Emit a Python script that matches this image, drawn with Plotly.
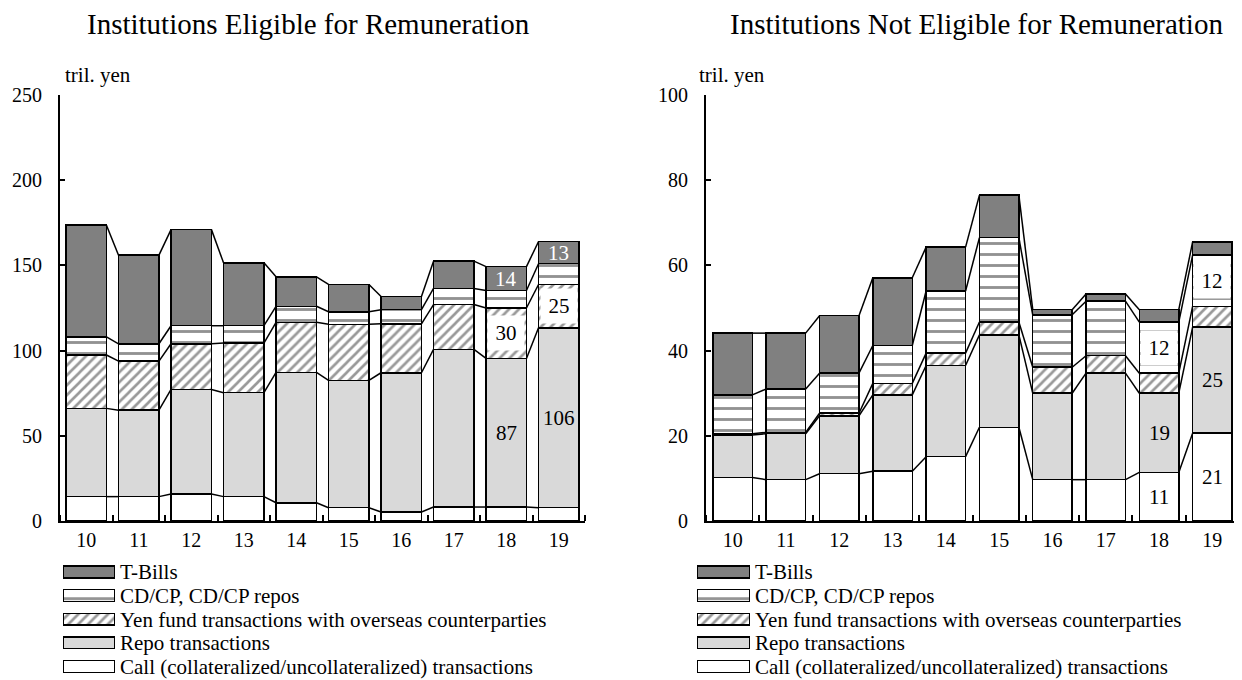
import numpy as np
import plotly.graph_objects as go

# fiscal years (tick labels)
years = ["10", "11", "12", "13", "14", "15", "16", "17", "18", "19"]

series_names = [
    "Call (collateralized/uncollateralized) transactions",
    "Repo transactions",
    "Yen fund transactions with overseas counterparties",
    "CD/CP, CD/CP repos",
    "T-Bills",
]

# Institutions eligible for remuneration (tril. yen)
elig_call = [14.3, 14.3, 15.8, 14.3, 10.7, 7.8, 5.3, 8.2, 8.2, 7.8]
elig_repo = [51.8, 50.7, 61.4, 61.0, 76.5, 74.7, 81.7, 92.5, 87.2, 105.6]
elig_yen = [31.3, 28.8, 26.8, 29.1, 29.4, 32.9, 28.7, 26.3, 29.6, 25.4]
elig_cd = [10.6, 10.2, 10.6, 10.2, 9.4, 7.4, 8.3, 9.5, 10.3, 12.2]
elig_tb = [65.6, 52.0, 56.4, 36.9, 17.3, 16.0, 7.8, 16.0, 14.0, 13.0]

# Institutions not eligible for remuneration (tril. yen)
nelig_call = [10.2, 9.7, 11.1, 11.7, 15.1, 22.0, 9.7, 9.7, 11.4, 20.6]
nelig_repo = [10.0, 10.8, 13.6, 17.9, 21.4, 21.7, 20.3, 25.0, 18.6, 24.9]
nelig_yen = [0.3, 0.3, 0.6, 2.7, 2.9, 3.0, 6.1, 4.1, 4.7, 4.9]
nelig_cd = [9.1, 10.2, 9.4, 8.9, 14.6, 19.8, 12.3, 12.8, 12.0, 12.0]
nelig_tb = [14.5, 13.1, 13.5, 15.9, 10.3, 10.0, 1.2, 1.7, 2.9, 3.1]

# (bar index, series index, boxed, text colour)
elig_labels = [(8, 4, False, "white"), (8, 2, True, "black"), (8, 1, False, "black"),
               (9, 4, False, "white"), (9, 2, True, "black"), (9, 1, False, "black")]
nelig_labels = [(8, 3, True, "black"), (8, 1, False, "black"), (8, 0, False, "black"),
                (9, 3, True, "black"), (9, 1, False, "black"), (9, 0, False, "black")]

FONT = "Liberation Serif"
# page body has an 8px margin, so the figure is a bit smaller than the window
OFF = 8
FW, FH = 1242 - OFF, 680 - OFF


def px(x):
    return (x - OFF) / FW


def py(y):
    return 1 - (y - OFF) / FH


styles = [
    dict(color="white"),
    dict(color="#d9d9d9"),
    dict(color="white", pattern=dict(shape="/", fgcolor="#333333", bgcolor="white",
                                      size=7, solidity=0.38)),
    dict(color="white", pattern=dict(shape="-", fgcolor="#262626", bgcolor="white",
                                      size=11, solidity=0.26)),
    dict(color="#808080"),
]

fig = go.Figure()
xs = np.arange(len(years))


def add_chart(data, n, width, labels):
    xa, ya = ("x", "y") if n == 1 else (f"x{n}", f"y{n}")
    for name, vals, st in zip(series_names, data, styles):
        fig.add_trace(go.Bar(
            x=xs, y=vals, name=name, width=width,
            marker=dict(line=dict(color="black", width=1.5), **st),
            xaxis=xa, yaxis=ya, hoverinfo="skip",
        ))
    # series lines joining the stacked segments
    cum = np.cumsum(np.array(data), axis=0)
    lx, ly = [], []
    for level in cum:
        for i in range(len(xs) - 1):
            lx += [xs[i] + width / 2, xs[i + 1] - width / 2, None]
            ly += [level[i], level[i + 1], None]
    fig.add_trace(go.Scatter(x=lx, y=ly, mode="lines", line=dict(color="black", width=1.5),
                             hoverinfo="skip", xaxis=xa, yaxis=ya))
    for bi, si, boxed, col in labels:
        base = cum[si - 1][bi] if si > 0 else 0
        v = data[si][bi]
        ann = dict(x=xs[bi], y=base + v / 2, xref=xa, yref=ya, text=f"{v:.0f}",
                   showarrow=False, font=dict(family=FONT, size=21, color=col))
        if boxed:
            ann.update(bgcolor="white", width=36, height=34, borderpad=0)
        fig.add_annotation(**ann)


def add_key(n):
    # legend drawn as a small horizontal bar panel, names as tick labels
    xa, ya = f"x{n}", f"y{n}"
    for name, st in zip(series_names, styles):
        fig.add_trace(go.Bar(
            x=[1], y=[name], orientation="h", width=0.5,
            marker=dict(line=dict(color="black", width=1.5), **st),
            xaxis=xa, yaxis=ya, hoverinfo="skip",
        ))


add_chart([elig_call, elig_repo, elig_yen, elig_cd, elig_tb], 1, 0.77, elig_labels)
add_chart([nelig_call, nelig_repo, nelig_yen, nelig_cd, nelig_tb], 2, 0.74, nelig_labels)
add_key(3)
add_key(4)

ydom = [py(521), py(95)]
xcommon = dict(range=[-0.5, 9.5], tickvals=list(xs), ticktext=years, ticks="",
               showline=True, linecolor="black", linewidth=2, showgrid=False, zeroline=False,
               tickfont=dict(family=FONT, size=20, color="black"), ticklabelstandoff=0,
               minor=dict(tick0=-0.5, dtick=1, ticks="inside", ticklen=6,
                          tickwidth=1.5, tickcolor="black"))
ycommon = dict(domain=ydom, showline=True, linecolor="black", linewidth=2, showgrid=False,
               zeroline=False, ticks="inside", ticklen=5, tickwidth=1.5, tickcolor="black",
               tickfont=dict(family=FONT, size=20, color="black"), ticklabelstandoff=12)

row0, row_gap = 572, 23.6
kdom = [py(row0 + 4.5 * row_gap), py(row0 - 0.5 * row_gap)]
kx = dict(range=[0, 1], visible=False, fixedrange=True)
ky = dict(domain=kdom, range=[-0.5, 4.5], type="category", categoryorder="array",
          categoryarray=series_names, tickmode="array", tickvals=series_names,
          ticktext=series_names, side="right", showline=False, showgrid=False,
          ticks="", zeroline=False, ticklabelstandoff=4,
          tickfont=dict(family=FONT, size=21, color="black"))

fig.update_layout(
    width=FW, height=FH,
    barmode="stack",
    showlegend=False,
    paper_bgcolor="white", plot_bgcolor="rgba(0,0,0,0)",
    margin=dict(l=0, r=0, t=0, b=0, autoexpand=False),
    font=dict(family=FONT, color="black"),
    xaxis=dict(domain=[px(60), px(585)], anchor="y", **xcommon),
    yaxis=dict(range=[0, 250], dtick=50, anchor="x", **ycommon),
    xaxis2=dict(domain=[px(706), px(1239)], anchor="y2", **xcommon),
    yaxis2=dict(range=[0, 100], dtick=20, anchor="x2", **ycommon),
    xaxis3=dict(domain=[px(63), px(115)], anchor="y3", **kx),
    yaxis3=dict(anchor="x3", **ky),
    xaxis4=dict(domain=[px(697), px(750)], anchor="y4", **kx),
    yaxis4=dict(anchor="x4", **ky),
)

for cx, txt in [(308, "Institutions Eligible for Remuneration"),
                (976, "Institutions Not Eligible for Remuneration")]:
    fig.add_annotation(x=px(cx), y=py(24), xref="paper", yref="paper", text=txt,
                       xanchor="center", yanchor="middle", showarrow=False,
                       font=dict(family=FONT, size=29, color="black"))
for lx0 in [63, 697]:
    fig.add_annotation(x=px(lx0), y=py(75), xref="paper", yref="paper", text="tril. yen",
                       xanchor="left", yanchor="middle", showarrow=False,
                       font=dict(family=FONT, size=21, color="black"))

fig.write_html("out.html")
